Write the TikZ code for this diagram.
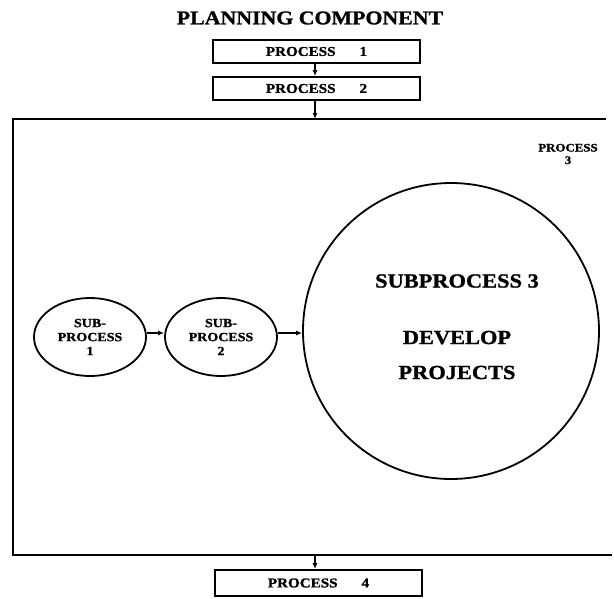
\documentclass[tikz,border=0pt]{standalone}
\usepackage{fontspec}
\setmainfont{Liberation Serif}[FakeStretch=1.12,FakeBold=1.2]
\usetikzlibrary{arrows.meta,shapes.geometric}
\begin{document}
\begin{tikzpicture}[x=1pt,y=-1pt,
  font=\bfseries,
  procbox/.style={draw,line width=1.8pt,minimum width=207pt,minimum height=23pt,inner sep=0pt,font=\fontsize{13.5}{15}\bfseries},
  subell/.style={draw,ellipse,line width=1.8pt,minimum width=112pt,minimum height=78pt,inner sep=0pt,align=center,font=\fontsize{12.5}{14}\bfseries},
  conn/.style={line width=1.5pt,-{Latex[length=6pt,width=5pt]}}]
\useasboundingbox (0,0) rectangle (614,598);
\node (title) at (310,18) {\fontsize{19.5}{22}\bfseries PLANNING COMPONENT};
\node[procbox] (p1) at (316.5,51.5) {PROCESS\hspace{24pt}1};
\node[procbox] (p2) at (316.5,88.5) {PROCESS\hspace{24pt}2};
\node[procbox,minimum height=26pt] (p4) at (318.5,583) {PROCESS\hspace{24pt}4};
\coordinate (tl) at (13,119);
\coordinate (tr) at (606,119);
\coordinate (bl) at (13,555);
\coordinate (br) at (612,555);
\coordinate (tin) at (315,119);
\coordinate (bout) at (315,555);
\draw[line width=2.2pt] (tr) -- (tl) -- (bl) -- (br);
\node[align=center,font=\fontsize{11.5}{12.5}\bfseries] (p3) at (568,154) {PROCESS\\3};
\node[subell] (s1) at (90,337) {SUB-\\PROCESS\\1};
\node[subell] (s2) at (221,337) {SUB-\\PROCESS\\2};
\node[draw,circle,line width=1.8pt,minimum size=296pt,inner sep=0pt] (s3) at (451,331) {};
\node[font=\fontsize{20}{22}\bfseries] (s3a) at (457,281) {SUBPROCESS 3};
\node[font=\fontsize{20}{22}\bfseries,align=center] (s3b) at (457,355) {DEVELOP\\[13pt]PROJECTS};
\draw[conn] (p1.south -| tin) -- (p2.north -| tin);
\draw[conn] (p2.south -| tin) -- (tin);
\draw[conn] (bout) -- (p4.north -| bout);
\draw[conn] (s1.east |- 0,333) -- (s2.west |- 0,333);
\draw[conn] (s2.east |- 0,333) -- (s3.west |- 0,333);
\end{tikzpicture}
\end{document}
